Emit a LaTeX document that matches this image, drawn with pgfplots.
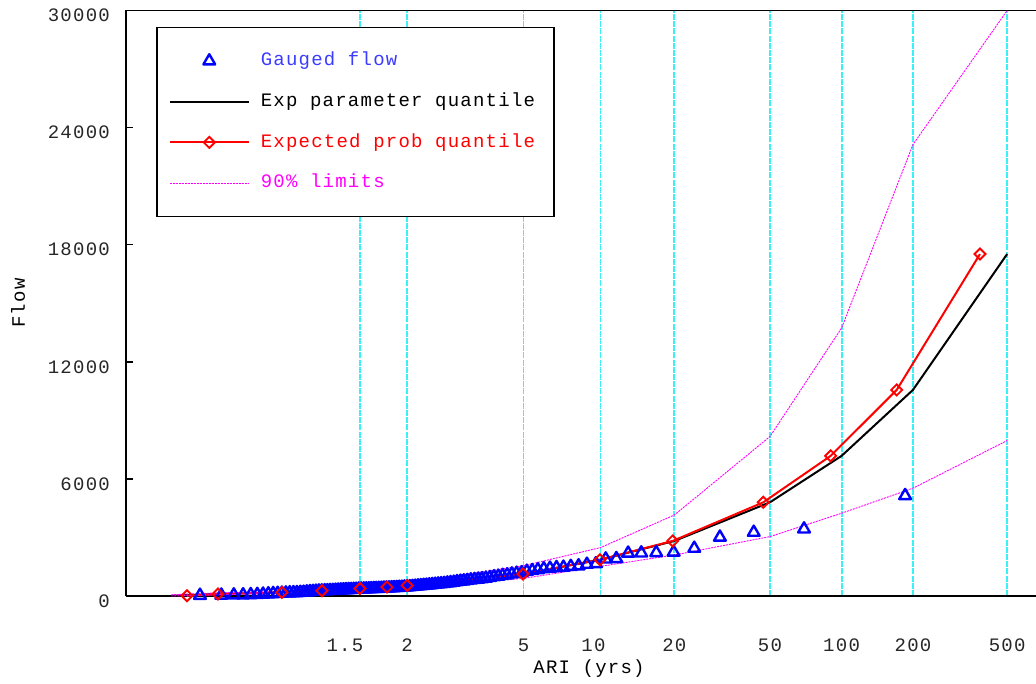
\documentclass[border=0pt]{standalone}
\usepackage{fontspec}
\setmainfont{Liberation Mono}[LetterSpace=6.5]
\usepackage{pgfplots}
\pgfplotsset{compat=1.18}
\definecolor{gblue}{RGB}{0,0,255}
\definecolor{lblue}{RGB}{60,60,255}
\definecolor{mag}{RGB}{255,0,255}
\definecolor{gridcyan}{RGB}{60,240,250}
\begin{document}
\fontsize{19}{23}\selectfont
\begin{tikzpicture}
\path[use as bounding box] (0,0) rectangle (1036pt,684pt);
\begin{axis}[
  at={(126pt,88pt)}, anchor=south west,
  scale only axis, width=910pt, height=585.5pt,
  xmin=-2.374, xmax=6.495, ymin=0, ymax=30000,
  clip=false,
  axis x line*=box, axis y line*=left,
  axis line style={line width=1.5pt, black},
  xtick={-0.0940,0.3665,1.4999,2.2504,2.9702,3.9019,4.6001,5.2958,6.2136},
  xticklabels={\makebox[0pt]{1.5\kern30pt},2,5,\makebox[0pt]{10\kern14pt},20,50,100,200,500},
  ytick={0,6000,12000,18000,24000,30000},
  yticklabels={0,6000,12000,18000,24000,30000},
  scaled y ticks=false,
  tick align=inside,
  major tick length=7pt,
  xtick style={draw=none},
  ytick style={line width=1.5pt, black},
  xmajorgrids,
  grid style={draw=gridcyan, dash pattern=on 6pt off 1.2pt, line width=1.9pt},
  major grid style={draw=gridcyan, dash pattern=on 6pt off 1.2pt, line width=1.9pt},
  tick label style={font=\fontsize{19}{23}\selectfont, text=black!85},
  xticklabel style={yshift=-36pt},
  yticklabel style={inner sep=0pt, xshift=-16pt, yshift=-5pt},
  xlabel={ARI (yrs)},
  xlabel style={at={(axis description cs:0.5088,-0.124)}, anchor=center, font=\fontsize{19}{23}\selectfont},
  ylabel={Flow},
  ylabel style={at={(axis description cs:-0.1187,0.5)}, anchor=center, font=\fontsize{19}{23}\selectfont},
  legend style={
    at={(axis description cs:0.033,0.972)}, anchor=north west,
    draw=black, line width=1.5pt, fill=white,
    inner xsep=12pt, inner ysep=13pt,
    row sep=0pt, column sep=4pt,
    font=\fontsize{19}{23}\selectfont,
    nodes={inner xsep=7pt, inner ysep=0pt, text height=25pt, text depth=15.7pt},
  },
  legend cell align=left,
  legend image code/.code={\draw[mark repeat=2,mark phase=2,#1] plot coordinates {(0pt,0pt) (39.5pt,0pt) (79pt,0pt)};},
]
% Gauged flow (x = Gumbel reduced variate of Cunnane plotting position)
\addplot[only marks, gblue, mark=triangle, mark size=6.8pt, mark options={gblue, line width=2.4pt, solid, line join=round}] coordinates {
(5.2195,5140) (4.2341,3430) (3.7441,3260) (3.4141,3010) (3.1642,2440)
(2.9629,2240) (2.7939,2220) (2.6481,2200) (2.5198,2190) (2.4050,1910)
(2.3011,1890) (2.2058,1650) (2.1182,1620) (2.0368,1540) (1.9608,1510)
(1.8894,1470) (1.8218,1450) (1.7582,1420) (1.6977,1390) (1.6401,1340)
(1.5853,1300) (1.5326,1260) (1.4819,1190) (1.4332,1160) (1.3862,1120)
(1.3408,1080) (1.2968,1050) (1.2543,1010) (1.2129,980) (1.1728,940)
(1.1337,910) (1.0957,880) (1.0586,860) (1.0223,840) (0.9869,820)
(0.9522,790) (0.9183,770) (0.8851,750) (0.8525,730) (0.8204,700)
(0.7890,680) (0.7581,660) (0.7277,640) (0.6977,625) (0.6682,610)
(0.6391,595) (0.6104,580) (0.5821,565) (0.5541,550) (0.5265,540)
(0.4992,525) (0.4721,510) (0.4454,495) (0.4188,485) (0.3926,470)
(0.3665,460) (0.3407,455) (0.3150,445) (0.2895,440) (0.2642,430)
(0.2390,425) (0.2140,418) (0.1891,410) (0.1643,405) (0.1396,400)
(0.1149,395) (0.0904,388) (0.0658,382) (0.0414,377) (0.0169,370)
(-0.0075,365) (-0.0320,360) (-0.0565,356) (-0.0810,352) (-0.1055,348)
(-0.1301,340) (-0.1548,335) (-0.1797,330) (-0.2046,325) (-0.2297,320)
(-0.2549,312) (-0.2803,305) (-0.3060,298) (-0.3318,290) (-0.3580,282)
(-0.3844,275) (-0.4112,268) (-0.4383,262) (-0.4659,256) (-0.4939,250)
(-0.5224,240) (-0.5515,230) (-0.5812,220) (-0.6116,205) (-0.6429,190)
(-0.6750,180) (-0.7082,170) (-0.7425,165) (-0.7782,158) (-0.8155,150)
(-0.8546,140) (-0.8959,130) (-0.9398,120) (-0.9870,105) (-1.0383,90)
(-1.0948,75) (-1.1585,65) (-1.2327,55) (-1.3233,50) (-1.4449,40)
(-1.6529,30)
};
\addlegendentry{\textcolor{lblue}{Gauged flow}}
% Exp parameter quantile (nominal ARI)
\addplot[black, line width=2pt, mark=none] coordinates {
(-1.9328,10) (-1.5293,100) (-0.8746,185) (-0.4759,265) (-0.0940,380)
(0.1657,455) (0.3665,540) (1.4999,1130) (2.2504,1860) (2.9702,2820)
(3.9019,4800) (4.6001,7180) (5.2958,10560) (6.2136,17520)
};
\addlegendentry{Exp parameter quantile}
% Expected probability quantile
\addplot[red, line width=2pt, mark=square, mark size=3.9pt, mark options={rotate=45, fill=white, line width=1.9pt, solid}] coordinates {
(-1.7797,10) (-1.4776,100) (-0.8538,185) (-0.4639,265) (-0.0935,380)
(0.1696,455) (0.3665,540) (1.4952,1130) (2.2456,1860) (2.9540,2820)
(3.8370,4800) (4.4940,7180) (5.1375,10560) (5.9490,17520)
};
\addlegendentry{\textcolor{red}{Expected prob quantile}}
% 90% limits
\addplot[mag, line width=0.9pt, dash pattern=on 2pt off 1pt, mark=none] coordinates {
(-1.9328,60) (-1.5293,150) (-0.8746,230) (-0.4759,320) (-0.0940,460)
(0.1657,560) (0.3665,660) (1.4999,1550) (2.2504,2480) (2.9702,4150)
(3.9019,8170) (4.6001,13730) (5.2958,23130) (6.2136,30000)
};
\addlegendentry{\textcolor{mag}{90\% limits}}
\addplot[mag, line width=0.9pt, dash pattern=on 2pt off 1pt, mark=none, forget plot] coordinates {
(-1.9328,0) (-1.5293,50) (-0.8746,140) (-0.4759,215) (-0.0940,310)
(0.1657,370) (0.3665,440) (1.4999,900) (2.2504,1520) (2.9702,2100)
(3.9019,3043) (4.6001,4240) (5.2958,5523) (6.2136,7965)
};
\end{axis}
\end{tikzpicture}
\end{document}
